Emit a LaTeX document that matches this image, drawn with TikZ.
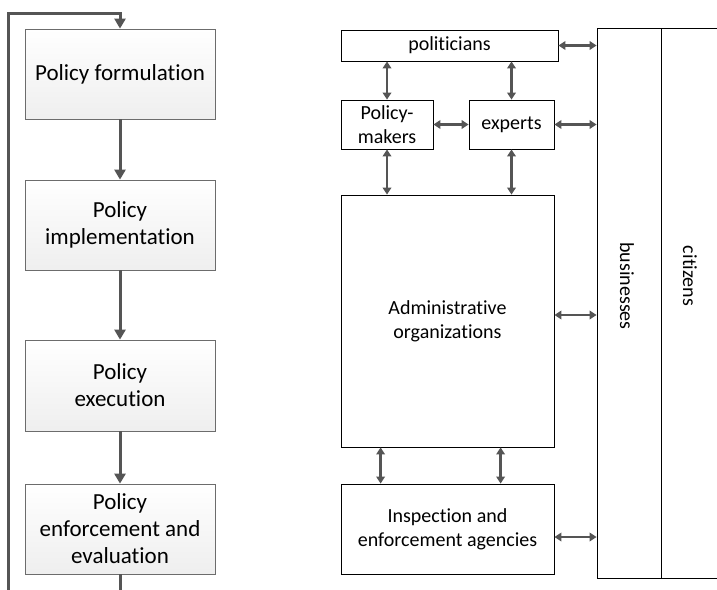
\documentclass[tikz,border=0pt]{standalone}
\usepackage{fontspec}
\setmainfont{Carlito}[Ligatures=NoCommon]
\usetikzlibrary{arrows.meta}
\definecolor{arr}{HTML}{555555}
\begin{document}
\begin{tikzpicture}[x=1pt,y=-1pt,
 lbox/.style={draw=gray!85!black, line width=0.8pt, top color=white, bottom color=gray!13, minimum width=190pt, inner sep=0pt, align=center, font=\fontsize{23}{27}\selectfont},
 rbox/.style={draw=black, line width=0.8pt, fill=white, inner sep=0pt, align=center, font=\fontsize{20}{24}\selectfont},
 rtext/.style={inner sep=0pt, rotate=-90, font=\fontsize{20}{24}\selectfont},
 flow/.style={draw=arr, line width=3pt, -{Triangle[length=10pt,width=11pt]}},
 loopline/.style={draw=arr, line width=3pt},
 dbl/.style={draw=arr, line width=2.4pt, {Triangle[length=7pt,width=8.5pt]}-{Triangle[length=7pt,width=8.5pt]}}]
\useasboundingbox (0,0) rectangle (717,589);
\begin{scope}
\clip (0,0) rectangle (717,589);
% left column
\node[lbox, minimum height=90pt] (f) at (120,74) {Policy formulation};
\node[lbox, minimum height=90pt] (i) at (120,225) {Policy\\implementation};
\node[lbox, minimum height=91pt] (e) at (120,385.5) {Policy\\execution};
\node[lbox, minimum height=90pt] (v) at (120,529) {Policy\\enforcement and\\evaluation};
\draw[flow] (f) -- (i);
\draw[flow] (i) -- (e);
\draw[flow] (e) -- (v);
\coordinate (vb) at (120,600);
\coordinate (lb) at (8,600);
\coordinate (lt) at (120,13);
\draw[loopline] (v.south) -- (vb);
\draw[flow] (lb) |- (lt) -- (f.north);
% right part
\node[rbox, minimum width=217pt, minimum height=31pt] (pol) at (449.5,45.5) {politicians};
\node[rbox, minimum width=92pt, minimum height=49pt] (pm) at (387,124.5) {Policy-\\makers};
\node[rbox, minimum width=85pt, minimum height=49pt] (exp) at (511.5,124.5) {experts};
\node[rbox, minimum width=213pt, minimum height=252pt] (adm) at (447.5,321) {Administrative\\organizations};
\node[rbox, minimum width=213pt, minimum height=90pt] (ins) at (447.5,529) {Inspection and\\enforcement agencies};
\node[rbox, minimum width=100pt, minimum height=550pt] (cit) at (711,303) {};
\node[rbox, minimum width=64pt, minimum height=550pt] (bus) at (629,303) {};
\node[rtext] (bust) at (627,286) {businesses};
\node[rtext] (citt) at (690,276) {citizens};
% arrows
\draw[dbl] (pol.east) -- (pol.east -| bus.west);
\draw[dbl] (exp.east) -- (exp.east -| bus.west);
\draw[dbl] ([yshift=6pt]adm.east) -- ([yshift=6pt]adm.east -| bus.west);
\draw[dbl] ([yshift=-8pt]ins.east) -- ([yshift=-8pt]ins.east -| bus.west);
\draw[dbl] (pm.north) -- (pm.north |- pol.south);
\draw[dbl] (exp.north) -- (exp.north |- pol.south);
\draw[dbl] (pm.east) -- (exp.west);
\draw[dbl] (pm.south) -- (pm.south |- adm.north);
\draw[dbl] (exp.south) -- (exp.south |- adm.north);
\draw[dbl] ([xshift=40pt]adm.south west) -- ([xshift=40pt]ins.north west);
\draw[dbl] ([xshift=160pt]adm.south west) -- ([xshift=160pt]ins.north west);
\end{scope}
\end{tikzpicture}
\end{document}
